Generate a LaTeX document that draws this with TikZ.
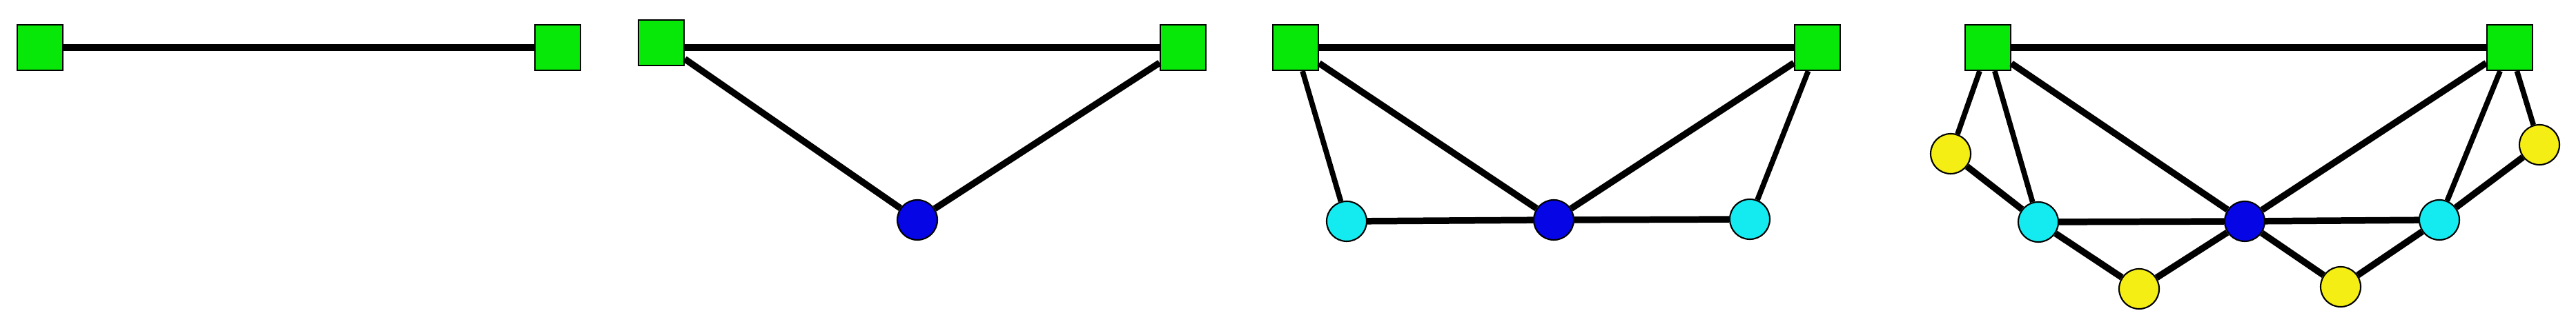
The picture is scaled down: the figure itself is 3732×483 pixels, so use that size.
\documentclass[tikz,border=0pt]{standalone}
\definecolor{termgreen}{RGB}{8,232,8}
\definecolor{hubblue}{RGB}{5,5,230}
\definecolor{midcyan}{RGB}{20,235,240}
\definecolor{leafyellow}{RGB}{245,238,20}

\begin{document}
\begin{tikzpicture}[x=0.01cm, y=-0.01cm,
    term/.style={draw=black, line width=0.6pt, fill=termgreen, minimum size=0.66cm, inner sep=0pt},
    dot/.style={circle, draw=black, line width=0.6pt, minimum size=0.58cm, inner sep=0pt},
    edge/.style={line width=2.7pt},
    thinedge/.style={line width=2.2pt}]
    \useasboundingbox (0,0) rectangle (3732,483);

    % Stage 1:
    \node[term] (a1) at (58,69) {};
    \node[term] (b1) at (808,69) {};
    \draw[edge] (a1) -- (b1);

    % Stage 2:
    \node[term] (a2) at (958,62) {};
    \node[term] (b2) at (1714,69) {};
    \node[dot, fill=hubblue] (h2) at (1329,319) {};
    \draw[edge] (a2.east |- b2) -- (b2);
    \draw[edge] (a2) -- (h2) -- (b2);

    % Stage 3:
    \node[term] (a3) at (1877,69) {};
    \node[term] (b3) at (2633,69) {};
    \node[dot, fill=hubblue] (h3) at (2251,319) {};
    \node[dot, fill=midcyan] (l3) at (1951,321) {};
    \node[dot, fill=midcyan] (r3) at (2535,318) {};
    \draw[edge] (a3) -- (b3);
    \draw[edge] (a3) -- (h3) -- (b3);
    \draw[edge] (l3) -- (h3) -- (r3);
    \draw[thinedge] (a3) -- (l3);
    \draw[thinedge] (b3) -- (r3);

    % Stage 4:
    \node[term] (a4) at (2880,69) {};
    \node[term] (b4) at (3636,69) {};
    \node[dot, fill=hubblue] (h4) at (3252,321) {};
    \node[dot, fill=midcyan] (l4) at (2953,322) {};
    \node[dot, fill=midcyan] (r4) at (3534,319) {};
    \node[dot, fill=leafyellow] (tl4) at (2826,223) {};
    \node[dot, fill=leafyellow] (tr4) at (3679,210) {};
    \node[dot, fill=leafyellow] (bl4) at (3099,419) {};
    \node[dot, fill=leafyellow] (br4) at (3391,416) {};
    \draw[edge] (a4) -- (b4);
    \draw[edge] (a4) -- (h4) -- (b4);
    \draw[edge] (l4) -- (h4) -- (r4);
    \draw[thinedge] (a4) -- (l4);
    \draw[thinedge] (b4) -- (r4);
    \draw[thinedge] (a4) -- (tl4);
    \draw[thinedge] (b4) -- (tr4);
    \draw[edge] (tl4) -- (l4) -- (bl4) -- (h4);
    \draw[edge] (tr4) -- (r4) -- (br4) -- (h4);
\end{tikzpicture}
\end{document}
